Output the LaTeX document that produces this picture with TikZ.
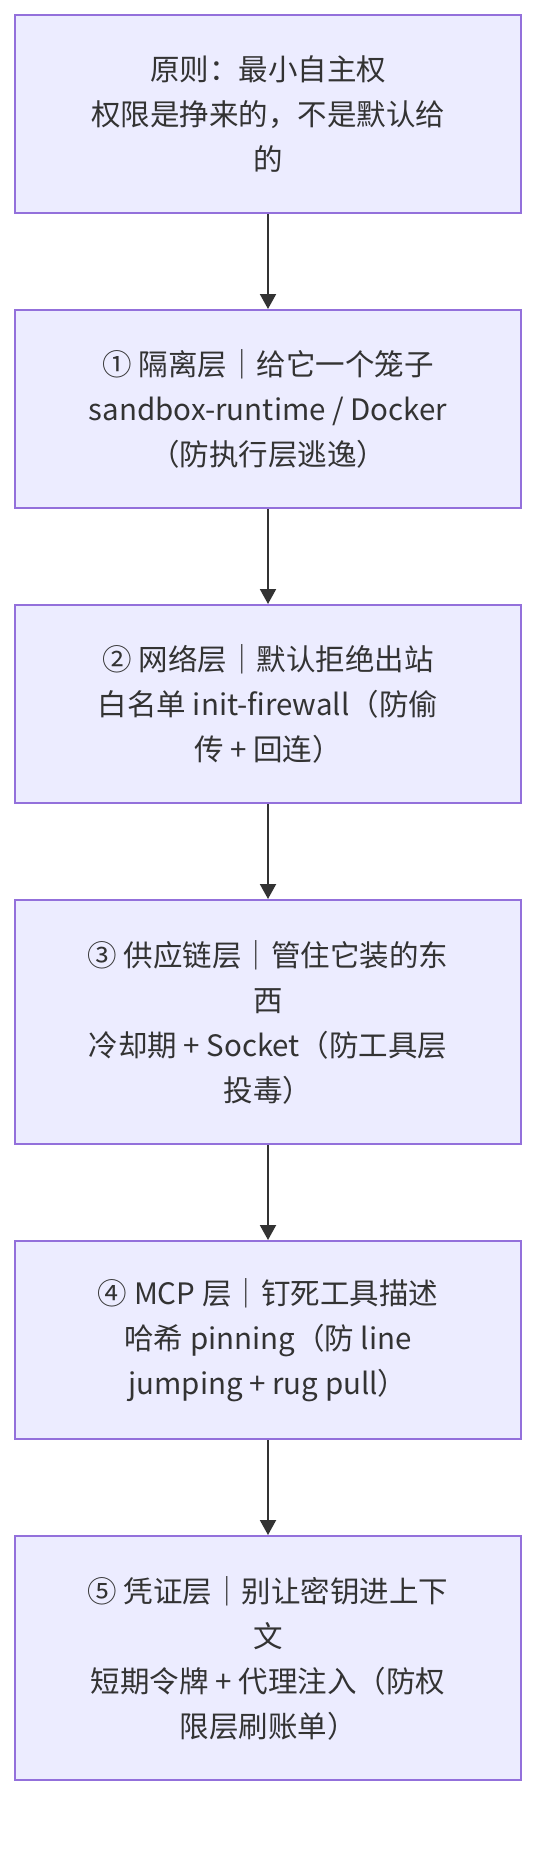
\documentclass[tikz,border=0pt]{standalone}
\usepackage{fontspec}
\setmainfont{Noto Sans CJK SC}
\usepackage{tikz}
\usetikzlibrary{arrows.meta,positioning}
\definecolor{boxfill}{HTML}{ECECFF}
\definecolor{boxline}{HTML}{9370DB}
\definecolor{inkgray}{HTML}{333333}
\tikzset{font=\fontsize{29.5}{45}\selectfont}
\tikzset{layer/.style={draw=boxline, line width=2pt, fill=boxfill, text=inkgray,
    align=center, minimum width=506pt, minimum height=198pt, inner sep=0pt}}
\tikzset{tall/.style={minimum height=244pt}}
\tikzset{flow/.style={draw=inkgray, line width=2pt, -{Triangle[length=15pt,width=16pt]}}}

\begin{document}
\begin{tikzpicture}[x=1pt, y=1pt, node distance=95pt]
  \useasboundingbox[fill=white] (0,0) rectangle (552,-1852);

  \node[layer] (rule) at (268,-114) {原则：最小自主权\\权限是挣来的，不是默认给\\的};
  \node[layer, below=of rule] (sandbox) {① 隔离层｜给它一个笼子\\sandbox-runtime / Docker\\（防执行层逃逸）};
  \node[layer, below=of sandbox] (network) {② 网络层｜默认拒绝出站\\白名单 init-firewall（防偷\\传 + 回连）};
  \node[layer, tall, below=of network] (supply) {③ 供应链层｜管住它装的东\\西\\冷却期 + Socket（防工具层\\投毒）};
  \node[layer, below=of supply] (mcp) {④ MCP 层｜钉死工具描述\\哈希 pinning（防 line\\jumping + rug pull）};
  \node[layer, tall, below=of mcp] (creds) {⑤ 凭证层｜别让密钥进上下\\文\\短期令牌 + 代理注入（防权\\限层刷账单）};

  % top to bottom
  \draw[flow] (rule) -- (sandbox);
  \draw[flow] (sandbox) -- (network);
  \draw[flow] (network) -- (supply);
  \draw[flow] (supply) -- (mcp);
  \draw[flow] (mcp) -- (creds);
\end{tikzpicture}
\end{document}
